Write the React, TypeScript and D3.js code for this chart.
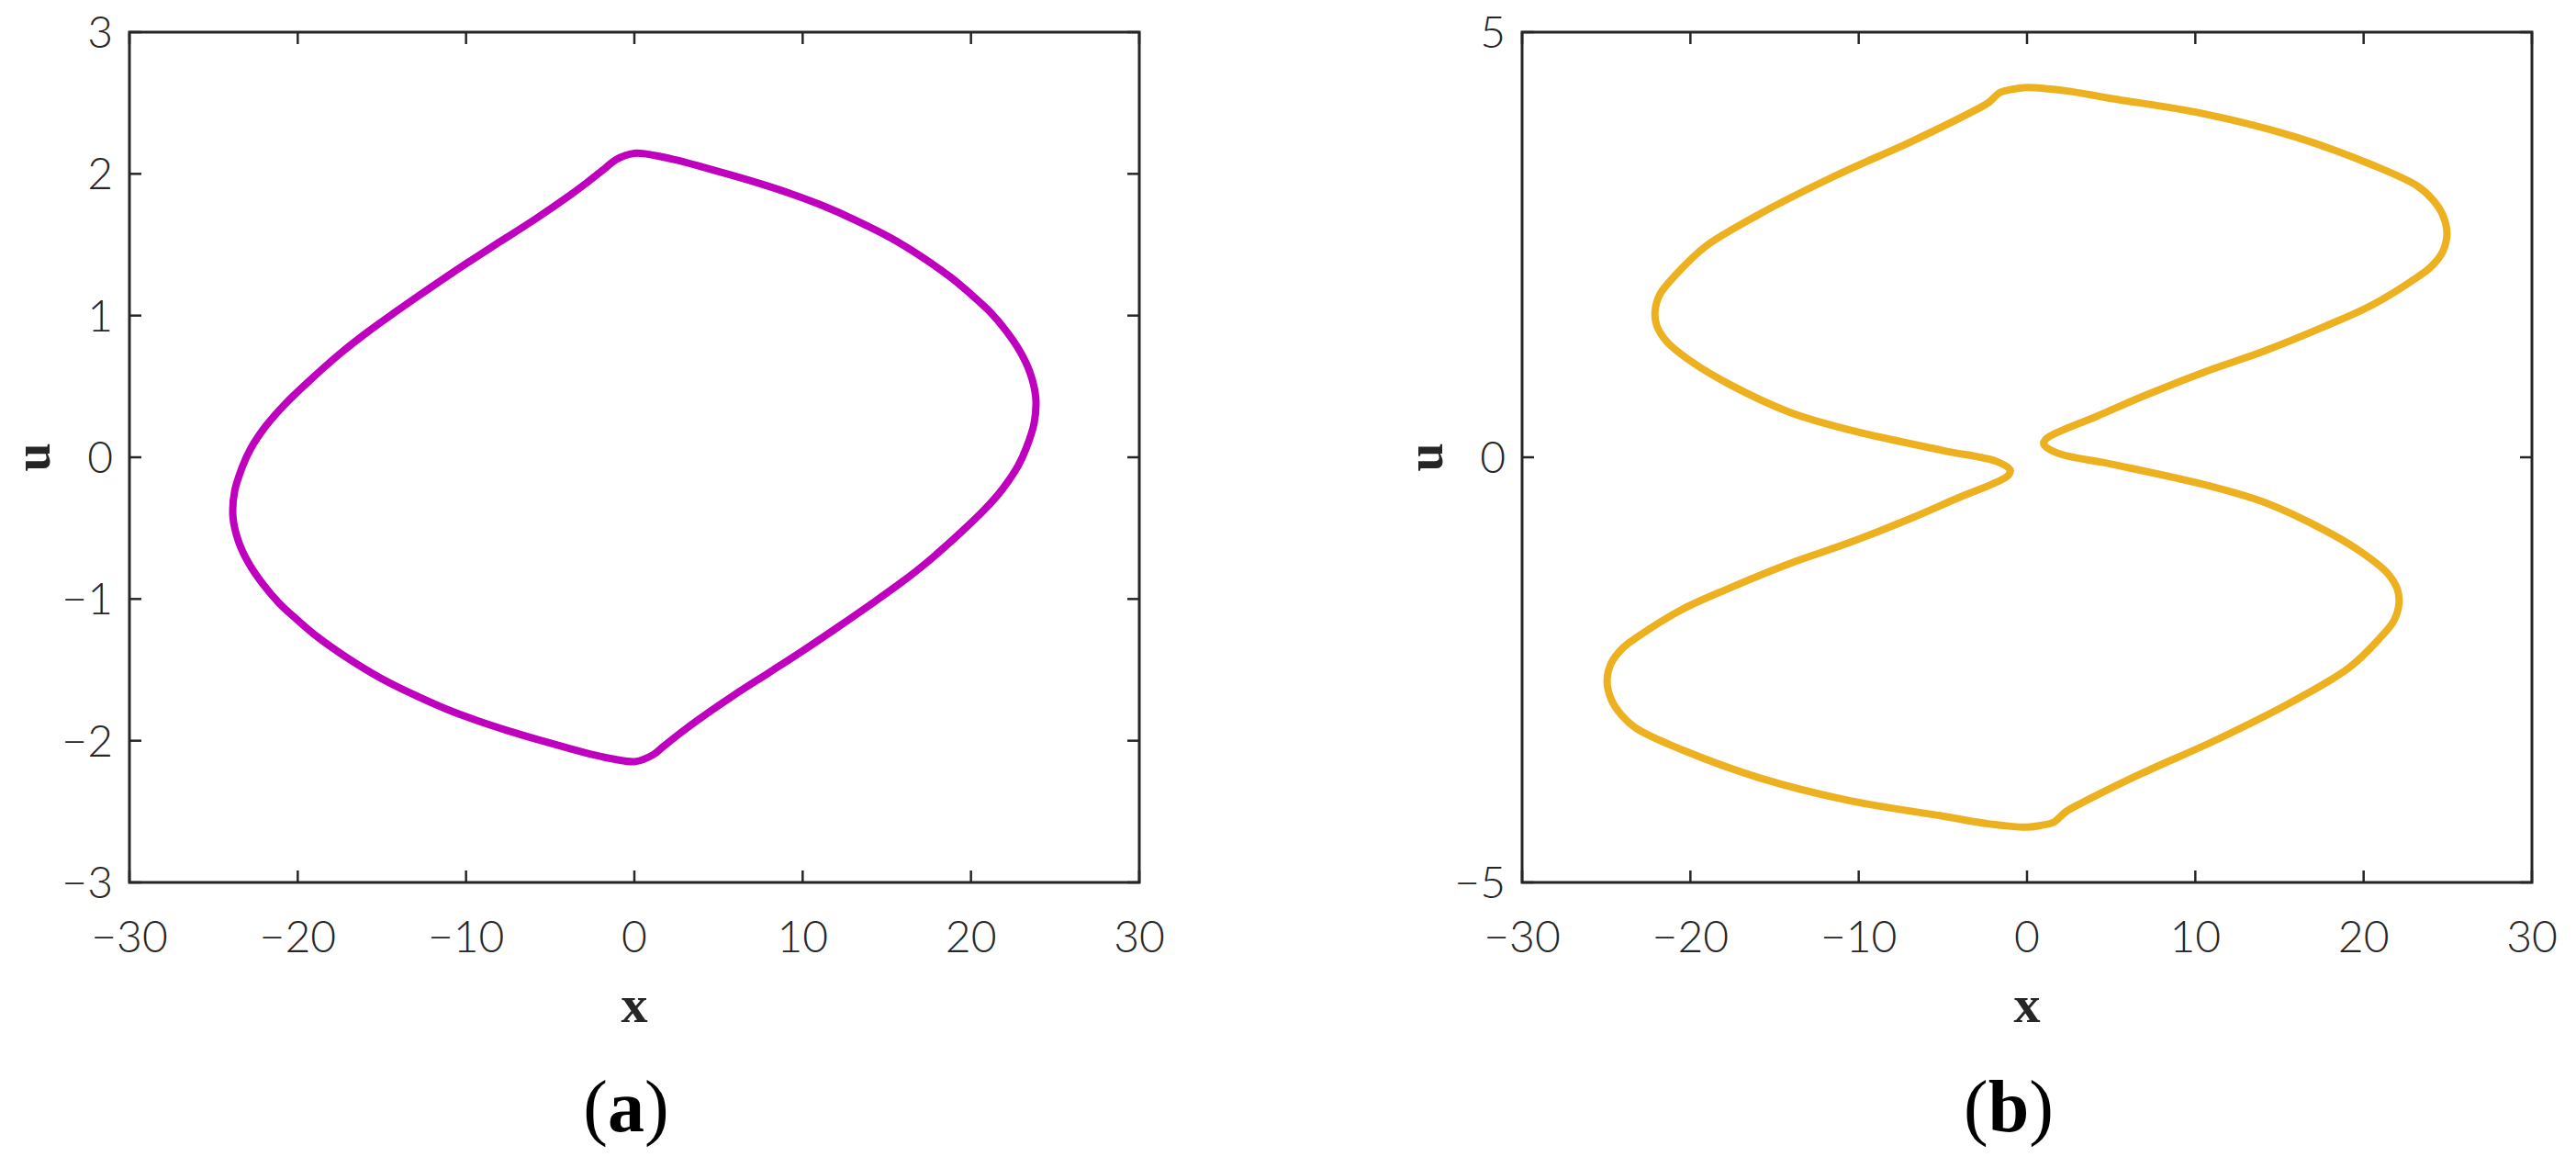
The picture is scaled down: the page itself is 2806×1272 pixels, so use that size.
import { useEffect, useRef } from "react";
import * as d3 from "d3";

// phase portrait (a): x, u read around the closed orbit (clockwise from the top)
const orbitAX = [0, 1.2, 2.4, 4.0, 5.8, 7.5, 9.3, 11.1, 13.2, 15.2, 17.0, 18.8, 20.0, 21.1, 22.1, 22.9, 23.5, 23.85, 23.75, 23.3, 22.8, 21.9, 20.8, 19.4, 17.4, 15.9, 14.26, 12.2, 10.08, 8.0, 5.9, 3.82, 2.8, 1.73, 1.1, 0.06,
    -1.2, -2.4, -4.0, -5.8, -7.5, -9.3, -11.1, -13.2, -15.2, -17.0, -18.8, -20.0, -21.1, -22.1, -22.9, -23.5, -23.85, -23.75, -23.3, -22.8, -21.9, -20.8, -19.4, -17.4, -15.9, -14.26, -12.2, -10.08, -8.0, -5.9, -3.82, -2.8, -1.73, -1.1];
const orbitAU = [2.145, 2.13, 2.10, 2.05, 1.99, 1.93, 1.86, 1.78, 1.67, 1.55, 1.42, 1.27, 1.15, 1.03, 0.89, 0.75, 0.60, 0.42, 0.24, 0.07, -0.06, -0.22, -0.37, -0.53, -0.74, -0.88, -1.02, -1.19, -1.36, -1.52, -1.68, -1.85, -1.94, -2.04, -2.10, -2.147,
    -2.13, -2.10, -2.05, -1.99, -1.93, -1.86, -1.78, -1.67, -1.55, -1.42, -1.27, -1.15, -1.03, -0.89, -0.75, -0.60, -0.42, -0.24, -0.07, 0.06, 0.22, 0.37, 0.53, 0.74, 0.88, 1.02, 1.19, 1.36, 1.52, 1.68, 1.85, 1.94, 2.04, 2.10];

// phase portrait (b)
const orbitBX = [0, 2.3, 5.0, 10.5, 15.9, 20.5, 23.2, 24.1, 24.7, 24.95, 24.7, 24.0, 23.2, 20.5, 17.7, 14.1, 10.5, 6.8, 4.0, 2.0, 1.1, 1.0, 1.8, 5.0, 10.5, 14.1, 17.7, 19.9, 21.4, 22.0, 22.1, 21.8, 20.9, 19.1, 15.9, 11.4, 6.8, 3.2, 2.3, 1.6, 0.8,
    0, -2.3, -5.0, -10.5, -15.9, -20.5, -23.2, -24.1, -24.7, -24.95, -24.7, -24.0, -23.2, -20.5, -17.7, -14.1, -10.5, -6.8, -4.0, -2.0, -1.1, -1.0, -1.8, -5.0, -10.5, -14.1, -17.7, -19.9, -21.4, -22.0, -22.1, -21.8, -20.9, -19.1, -15.9, -11.4, -6.8, -3.2, -2.3, -1.6, -0.8];
const orbitBU = [4.35, 4.31, 4.22, 4.04, 3.77, 3.44, 3.19, 3.03, 2.85, 2.63, 2.42, 2.24, 2.12, 1.79, 1.54, 1.25, 1.0, 0.71, 0.47, 0.31, 0.21, 0.15, 0.05, -0.08, -0.32, -0.53, -0.86, -1.12, -1.36, -1.55, -1.72, -1.92, -2.14, -2.48, -2.86, -3.31, -3.72, -4.07, -4.17, -4.29, -4.33,
    -4.35, -4.31, -4.22, -4.04, -3.77, -3.44, -3.19, -3.03, -2.85, -2.63, -2.42, -2.24, -2.12, -1.79, -1.54, -1.25, -1.0, -0.71, -0.47, -0.31, -0.21, -0.15, -0.05, 0.08, 0.32, 0.53, 0.86, 1.12, 1.36, 1.55, 1.72, 1.92, 2.14, 2.48, 2.86, 3.31, 3.72, 4.07, 4.17, 4.29, 4.33];

const xTicks = [-30, -20, -10, 0, 10, 20, 30];
const uTicksA = [-3, -2, -1, 0, 1, 2, 3];
const uTicksB = [-5, 0, 5];
const xDomain = [-30, 30];
const uDomainA = [-3, 3];
const uDomainB = [-5, 5];

const W = 2806;
const H = 1272;
const axisColor = "#262626";
const tickFont = "Lato, 'DejaVu Sans', sans-serif";
const serif = "'Liberation Serif', 'DejaVu Serif', serif";

export default function App() {
    const svgRef = useRef(null);

    useEffect(() => {
        const svg = d3.select(svgRef.current);
        svg.selectAll("*").remove();

        const panels = [
            { left: 141, right: 1241, xs: orbitAX, us: orbitAU, uDom: uDomainA, uTicks: uTicksA, color: "#BF00BF", tag: "a", capShift: -9 },
            { left: 1658, right: 2758, xs: orbitBX, us: orbitBU, uDom: uDomainB, uTicks: uTicksB, color: "#EDB120", tag: "b", capShift: -20 },
        ];
        const top = 35;
        const bottom = 961;
        const tickLen = 13;

        panels.forEach((p) => {
            const x = d3.scaleLinear(xDomain, [p.left, p.right]);
            const y = d3.scaleLinear(p.uDom, [bottom, top]);
            const g = svg.append("g");

            // the orbit
            const pts = p.xs.map((v, i) => [v, p.us[i]]);
            const line = d3
                .line()
                .x((d) => x(d[0]))
                .y((d) => y(d[1]))
                .curve(d3.curveCatmullRomClosed.alpha(0.5));
            g.append("path")
                .attr("d", line(pts))
                .attr("fill", "none")
                .attr("stroke", p.color)
                .attr("stroke-width", 8)
                .attr("stroke-linejoin", "round");

            // box
            g.append("rect")
                .attr("x", p.left)
                .attr("y", top)
                .attr("width", p.right - p.left)
                .attr("height", bottom - top)
                .attr("fill", "none")
                .attr("stroke", axisColor)
                .attr("stroke-width", 3);

            // inward ticks on all four sides
            const ticks = g.append("g").attr("stroke", axisColor).attr("stroke-width", 2.5);
            xTicks.forEach((t) => {
                ticks.append("line").attr("x1", x(t)).attr("x2", x(t)).attr("y1", bottom).attr("y2", bottom - tickLen);
                ticks.append("line").attr("x1", x(t)).attr("x2", x(t)).attr("y1", top).attr("y2", top + tickLen);
            });
            p.uTicks.forEach((t) => {
                ticks.append("line").attr("x1", p.left).attr("x2", p.left + tickLen).attr("y1", y(t)).attr("y2", y(t));
                ticks.append("line").attr("x1", p.right).attr("x2", p.right - tickLen).attr("y1", y(t)).attr("y2", y(t));
            });

            const fmt = (v) => (v < 0 ? "\u2212" + Math.abs(v) : String(v));

            g.append("g")
                .selectAll("text")
                .data(xTicks)
                .join("text")
                .attr("x", (d) => x(d))
                .attr("y", 1037)
                .attr("text-anchor", "middle")
                .attr("font-family", tickFont)
                .attr("font-weight", 300)
                .attr("font-size", 48)
                .attr("fill", axisColor)
                .text(fmt);

            g.append("g")
                .selectAll("text")
                .data(p.uTicks)
                .join("text")
                .attr("x", p.left - 18)
                .attr("y", (d) => y(d) + 17)
                .attr("text-anchor", "end")
                .attr("font-family", tickFont)
                .attr("font-weight", 300)
                .attr("font-size", 48)
                .attr("fill", axisColor)
                .text(fmt);

            const cx = (p.left + p.right) / 2;

            g.append("text")
                .attr("x", cx)
                .attr("y", 1113)
                .attr("text-anchor", "middle")
                .attr("font-family", serif)
                .attr("font-weight", "bold")
                .attr("font-size", 58)
                .attr("fill", axisColor)
                .text("x");

            g.append("text")
                .attr("transform", `translate(${p.left - 104},${(top + bottom) / 2}) rotate(-90)`)
                .attr("text-anchor", "middle")
                .attr("dy", "0.3em")
                .attr("font-family", serif)
                .attr("font-weight", "bold")
                .attr("font-size", 56)
                .attr("fill", axisColor)
                .text("u");

            const cap = g.append("text")
                .attr("x", cx + p.capShift)
                .attr("y", 1232)
                .attr("text-anchor", "middle")
                .attr("font-family", serif)
                .attr("font-size", 80)
                .attr("fill", "#000");
            cap.append("tspan").text("(");
            cap.append("tspan").attr("font-weight", "bold").text(p.tag);
            cap.append("tspan").text(")");
        });
    }, []);

    return (
        <svg
            ref={svgRef}
            width={W}
            height={H}
            viewBox={`0 0 ${W} ${H}`}
            style={{ position: "absolute", left: 0, top: 0, background: "#fff" }}
        ></svg>
    );
}
